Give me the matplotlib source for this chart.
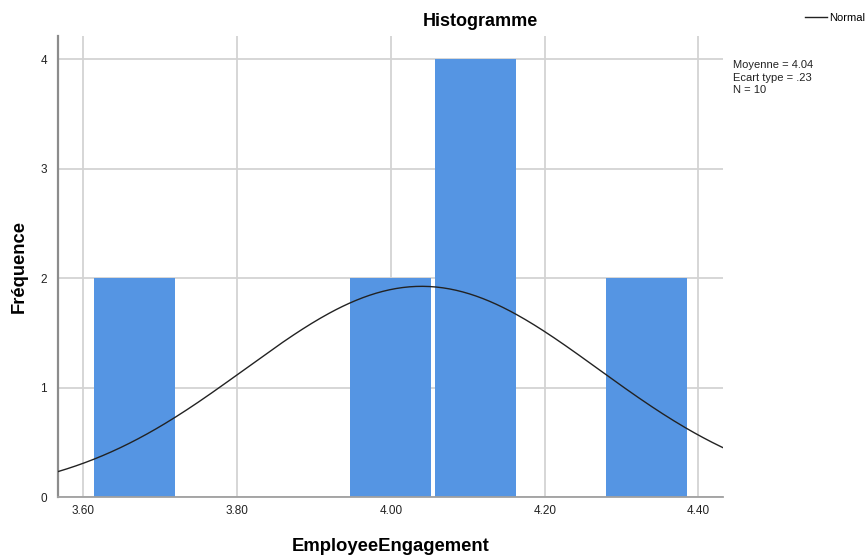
import numpy as np
import matplotlib.pyplot as plt

plt.rcParams['font.family'] = ['Liberation Sans', 'DejaVu Sans']

# histogram bins (left edges) and counts
bin_left = [3.611, 3.722, 3.833, 3.944, 4.055, 4.166, 4.277]
bin_width = 0.111
counts = [2, 0, 0, 2, 4, 0, 2]

# summary statistics
mean = 4.04
std = 0.23
n = 10

x_ticks = [3.60, 3.80, 4.00, 4.20, 4.40]
x_tick_labels = ['3.60', '3.80', '4.00', '4.20', '4.40']
y_ticks = [0, 1, 2, 3, 4]

fig = plt.figure(figsize=(8.67, 5.58), dpi=100)
ax = fig.add_axes([0.0669, 0.1093, 0.834 - 0.0669, 0.9355 - 0.1093])

centers = np.array(bin_left) + bin_width / 2
ax.bar(centers, counts, width=bin_width * 0.95, color='#5595e3',
       edgecolor='none', zorder=2)

# fitted normal curve, scaled to counts
xs = np.linspace(3.567, 4.432, 300)
ys = n * bin_width * np.exp(-0.5 * ((xs - mean) / std) ** 2) / (std * np.sqrt(2 * np.pi))
line, = ax.plot(xs, ys, color='#222222', lw=1.0, zorder=3, label='Normal')

ax.set_xlim(3.567, 4.432)
ax.set_ylim(0, 4.213)
ax.set_xticks(x_ticks)
ax.set_xticklabels(x_tick_labels)
ax.set_yticks(y_ticks)
ax.tick_params(length=0, labelsize=8.5, colors='#222222')
ax.tick_params(axis='x', pad=6)
ax.tick_params(axis='y', pad=8)
ax.grid(True, color='#d3d3d3', lw=1.3, zorder=0)
ax.set_axisbelow(True)

for side in ['top', 'right']:
    ax.spines[side].set_visible(False)
ax.spines['left'].set_color('#8c8c8c')
ax.spines['left'].set_linewidth(1.6)
ax.spines['bottom'].set_color('#a0a0a0')
ax.spines['bottom'].set_linewidth(1.3)

fig.text(0.5536, 0.962, 'Histogramme', fontsize=13, fontweight='bold',
         ha='center', va='center')
ax.set_xlabel('EmployeeEngagement', fontsize=13.3, fontweight='bold', labelpad=15)
ax.set_ylabel('Fréquence', fontsize=13.2, fontweight='bold', labelpad=9)

fig.text(0.8455, 0.892, f'Moyenne = {mean:.2f}\nEcart type = {str(std)[1:]}\nN = {n}',
         fontsize=8, va='top', ha='left', linespacing=1.3, color='#222222')

fig.legend(handles=[line], loc='upper left', bbox_to_anchor=(0.9285, 0.977),
           frameon=False, fontsize=8, handlelength=2.0, handletextpad=0.15,
           borderpad=0, borderaxespad=0)

fig.savefig('out.png', dpi=100)
